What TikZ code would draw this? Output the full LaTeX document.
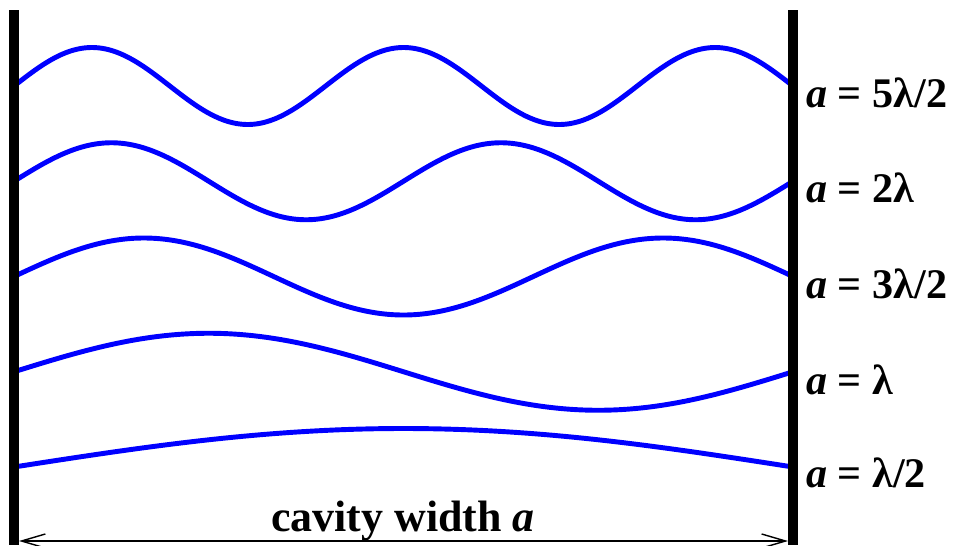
\documentclass[tikz,border=0pt]{standalone}
\usepackage{fontspec}
\setmainfont{Liberation Serif}
\usetikzlibrary{arrows.meta}

\begin{document}
\begin{tikzpicture}[x=0.02cm,y=-0.02cm,
    wave/.style={blue,line width=2.8pt},
    wall/.style={line width=5.7pt},
    modelabel/.style={anchor=base west,inner sep=0pt,font=\fontsize{24}{28}\selectfont\bfseries}]
    \useasboundingbox (0,0) rectangle (963,545);
    % standing waves, n half wavelengths between the walls
    \foreach \n in {5,4,3,2,1}
        \draw[wave] plot[domain=14:793,samples=150,smooth]
            (\x,{86+95.25*(5-\n)-38.5*sin(\n*((\x-14)/779)*180)});
    \draw[wall] (14,10) -- (14,545);
    \draw[wall] (793,10) -- (793,545);
    \node[modelabel] (m5) at (806,107) {\itshape a\upshape{} = 5λ/2};
    \node[modelabel] (m4) at (806,202) {\itshape a\upshape{} = 2λ};
    \node[modelabel] (m3) at (806,298) {\itshape a\upshape{} = 3λ/2};
    \node[modelabel] (m2) at (806,394) {\itshape a\upshape{} = λ};
    \node[modelabel] (m1) at (806,487) {\itshape a\upshape{} = λ/2};
    \coordinate (leftend) at (19,541);
    \coordinate (rightend) at (788,541);
    \draw[line width=0.8pt,{Straight Barb[length=13.6pt,width=8pt]}-{Straight Barb[length=13.6pt,width=8pt]}]
        (leftend) -- (rightend);
    \node[anchor=base,font=\fontsize{25}{30}\selectfont\bfseries] (width) at (403,531) {cavity width \itshape a};
\end{tikzpicture}
\end{document}
